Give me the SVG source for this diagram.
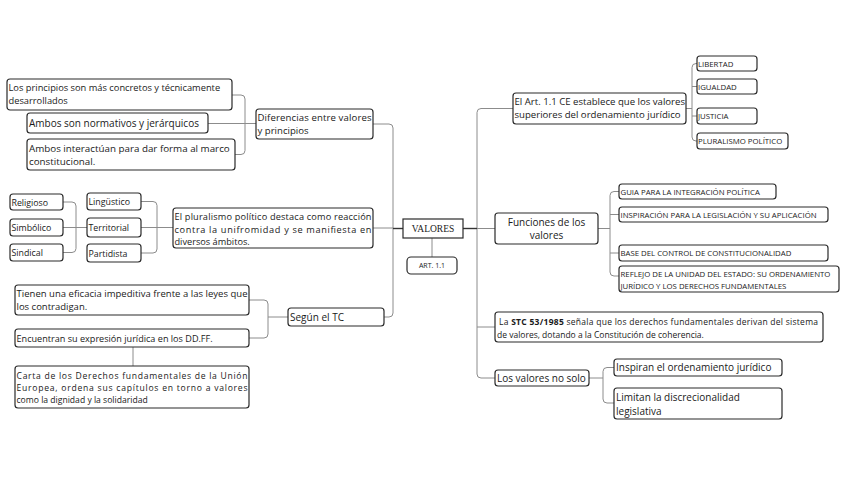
<svg xmlns="http://www.w3.org/2000/svg" width="848" height="477" viewBox="0 0 848 477">
<style>
.b{fill:#fff;stroke:#2a2a2a;stroke-width:1.2}
.t{font-family:"Open Sans","Noto Sans",sans-serif;font-size:10px;fill:#1a1a1a}
.s{font-family:"Open Sans","Noto Sans",sans-serif;font-size:8.8px;fill:#1a1a1a}
.c{font-family:"Open Sans","Noto Sans",sans-serif;font-size:7.8px;fill:#1a1a1a}
.k{fill:none;stroke:#8c8c8c;stroke-width:1}
.d{fill:none;stroke:#333;stroke-width:1.4}
</style>
<rect width="848" height="477" fill="#fff"/>
<g id="connectors">
<path class="k" d="M232,95 H241 Q245,95 245,99 V150.5 Q245,154.5 241,154.5 H235"/>
<path class="k" d="M208,123.5 H256"/>
<path class="k" d="M373,124 H389 Q393,124 393,128 V313 Q393,317 389,317 H384"/>
<path class="k" d="M373,228 H393"/>
<path class="d" d="M393,228.5 H403"/>
<path class="k" d="M141,201.5 H153 Q157,201.5 157,205.5 V249 Q157,253 153,253 H141"/>
<path class="k" d="M141,227.5 H173"/>
<path class="k" d="M63,202 H72 Q76,202 76,206 V248.5 Q76,252.5 72,252.5 H63"/>
<path class="k" d="M63,227.5 H87"/>
<path class="k" d="M249,300 H264 Q268,300 268,304 V334 Q268,338 264,338 H249"/>
<path class="k" d="M268,317 H288"/>
<path class="k" d="M133,347 V366"/>
<path class="k" d="M432,238 V257"/>
<path class="k" d="M513,108.5 H481 Q477,108.5 477,112.5 V374 Q477,378 481,378 H495"/>
<path class="d" d="M463,228.5 H477"/>
<path class="k" d="M477,228.5 H495"/>
<path class="k" d="M477,327 H495"/>
<path class="k" d="M686,108.5 H692"/>
<path class="k" d="M697,63.5 H696 Q692,63.5 692,67.5 V137 Q692,141 696,141 H697"/>
<path class="k" d="M692,86.5 H697 M692,116 H697"/>
<path class="k" d="M598,228.5 H610"/>
<path class="k" d="M619,191.5 H614 Q610,191.5 610,195.5 V272 Q610,276 614,276 H619"/>
<path class="k" d="M610,214.5 H619 M610,253 H619"/>
<path class="k" d="M589,378 H603"/>
<path class="k" d="M614,367.5 H607 Q603,367.5 603,371.5 V399 Q603,403 607,403 H614"/>
</g>
<g id="n1"><rect class="b" x="7" y="79" width="225" height="31" rx="3"/><text class="t" x="8.5" y="91" style="font-size:9.3px">Los principios son más concretos y técnicamente</text><text class="t" x="8.5" y="104" style="font-size:9.3px">desarrollados</text></g>
<g id="n2"><rect class="b" x="27" y="113" width="181" height="20" rx="3"/><text class="t" x="29" y="127">Ambos son normativos y jerárquicos</text></g>
<g id="n3"><rect class="b" x="27" y="139" width="208" height="31" rx="3"/><text class="t" x="29" y="152" style="font-size:9.8px">Ambos interactúan para dar forma al marco</text><text class="t" x="29" y="164.5" style="font-size:9.8px">constitucional.</text></g>
<g id="n4"><rect class="b" x="256" y="109" width="117" height="30" rx="3"/><text class="t" x="257.5" y="121" style="font-size:9.6px" textLength="114" lengthAdjust="spacing">Diferencias entre valores</text><text class="t" x="257.5" y="133.5" style="font-size:9.6px">y principios</text></g>
<g id="n5"><rect class="b" x="10" y="194" width="53" height="16" rx="3"/><text class="s" x="11.5" y="205.5">Religioso</text></g>
<g id="n6"><rect class="b" x="10" y="219" width="53" height="17" rx="3"/><text class="s" x="11.5" y="231">Simbólico</text></g>
<g id="n7"><rect class="b" x="10" y="244" width="53" height="17" rx="3"/><text class="s" x="11.5" y="256">Sindical</text></g>
<g id="n8"><rect class="b" x="87" y="193" width="54" height="17" rx="3"/><text class="s" x="88.5" y="205">Lingüstico</text></g>
<g id="n9"><rect class="b" x="87" y="218" width="54" height="19" rx="3"/><text class="s" x="88.5" y="231">Territorial</text></g>
<g id="n10"><rect class="b" x="87" y="244" width="54" height="18" rx="3"/><text class="s" x="88.5" y="256.5">Partidista</text></g>
<g id="n11"><rect class="b" x="173" y="208" width="200" height="40" rx="3"/><text class="t" x="174.5" y="220" style="font-size:9.2px" textLength="197" lengthAdjust="spacing">El pluralismo político destaca como reacción</text><text class="t" x="174.5" y="232.5" style="font-size:9.2px" textLength="197" lengthAdjust="spacing">contra la unifromidad y se manifiesta en</text><text class="t" x="174.5" y="245" style="font-size:9.2px">diversos ámbitos.</text></g>
<g id="n12"><rect x="403" y="219" width="60" height="19" fill="#fff" stroke="#2a2a2a" stroke-width="1.2"/><text x="433" y="232" text-anchor="middle" font-family="'Liberation Serif',serif" font-size="9.5" fill="#1a1a1a">VALORES</text></g>
<g id="n13"><rect class="b" x="407" y="257" width="50" height="17" rx="4"/><text x="432" y="268" text-anchor="middle" font-family="'Open Sans',sans-serif" font-size="7" fill="#1a1a1a">ART. 1.1</text></g>
<g id="n14"><rect class="b" x="15" y="285" width="234" height="30" rx="3"/><text class="t" x="16.5" y="297" style="font-size:9.5px" textLength="231" lengthAdjust="spacing">Tienen una eficacia impeditiva frente a las leyes que</text><text class="t" x="16.5" y="309.5" style="font-size:9.5px">los contradigan.</text></g>
<g id="n15"><rect class="b" x="15" y="329" width="234" height="18" rx="3"/><text class="t" x="16.5" y="341.5" style="font-size:9.1px">Encuentran su expresión jurídica en los DD.FF.</text></g>
<g id="n16"><rect class="b" x="15" y="366" width="234" height="42" rx="3"/><text class="t" x="16.5" y="378.5" style="font-size:8.6px" textLength="231" lengthAdjust="spacing">Carta de los Derechos fundamentales de la Unión</text><text class="t" x="16.5" y="390.5" style="font-size:8.6px" textLength="231" lengthAdjust="spacing">Europea, ordena sus capítulos en torno a valores</text><text class="t" x="16.5" y="402.5" style="font-size:8.6px">como la dignidad y la solidaridad</text></g>
<g id="n17"><rect class="b" x="288" y="308" width="96" height="18" rx="3"/><text class="t" x="290" y="320.5">Según el TC</text></g>
<g id="n18"><rect class="b" x="513" y="93" width="173" height="31" rx="3"/><text class="t" x="514.5" y="105" style="font-size:9.6px">El Art. 1.1 CE establece que los valores</text><text class="t" x="514.5" y="118" style="font-size:9.6px">superiores del ordenamiento jurídico</text></g>
<g id="n19"><rect class="b" x="697" y="56" width="60" height="15" rx="3"/><text class="c" x="698" y="66.5">LIBERTAD</text></g>
<g id="n20"><rect class="b" x="697" y="79" width="60" height="15" rx="3"/><text class="c" x="698" y="89.5">IGUALDAD</text></g>
<g id="n21"><rect class="b" x="697" y="108" width="60" height="16" rx="3"/><text class="c" x="698" y="119">JUSTICIA</text></g>
<g id="n22"><rect class="b" x="697" y="133" width="91" height="16" rx="3"/><text class="c" x="698" y="144">PLURALISMO POLÍTICO</text></g>
<g id="n23"><rect class="b" x="495" y="213" width="103" height="31" rx="3"/><text class="t" x="546.5" y="226" text-anchor="middle">Funciones de los</text><text class="t" x="546.5" y="239" text-anchor="middle">valores</text></g>
<g id="n24"><rect class="b" x="619" y="184" width="157" height="15" rx="3"/><text class="c" x="620.5" y="194.5">GUIA PARA LA INTEGRACIÓN POLÍTICA</text></g>
<g id="n25"><rect class="b" x="619" y="207" width="209" height="15" rx="3"/><text class="c" x="620.5" y="217.5">INSPIRACIÓN PARA LA LEGISLACIÓN Y SU APLICACIÓN</text></g>
<g id="n26"><rect class="b" x="619" y="245" width="209" height="16" rx="3"/><text class="c" x="620.5" y="256">BASE DEL CONTROL DE CONSTITUCIONALIDAD</text></g>
<g id="n27"><rect class="b" x="619" y="266" width="220" height="26" rx="3"/><text class="c" x="620.5" y="277">REFLEJO DE LA UNIDAD DEL ESTADO: SU ORDENAMIENTO</text><text class="c" x="620.5" y="289">JURÍDICO Y LOS DERECHOS FUNDAMENTALES</text></g>
<g id="n28"><rect class="b" x="495" y="312" width="328" height="30" rx="3"/><text class="t" x="499" y="325" style="font-size:8.5px" textLength="319" lengthAdjust="spacing"><tspan>La </tspan><tspan font-weight="bold">STC 53/1985</tspan><tspan> señala que los derechos fundamentales derivan del sistema</tspan></text><text class="t" x="497" y="337.5" style="font-size:8.5px">de valores, dotando a la Constitución de coherencia.</text></g>
<g id="n29"><rect class="b" x="495" y="370" width="94" height="16" rx="3"/><text class="t" x="497" y="381.5">Los valores no solo</text></g>
<g id="n30"><rect class="b" x="614" y="359" width="168" height="17" rx="3"/><text class="t" x="616" y="371">Inspiran el ordenamiento jurídico</text></g>
<g id="n31"><rect class="b" x="614" y="388" width="168" height="31" rx="3"/><text class="t" x="616" y="401">Limitan la discrecionalidad</text><text class="t" x="616" y="414.5">legislativa</text></g>
</svg>
